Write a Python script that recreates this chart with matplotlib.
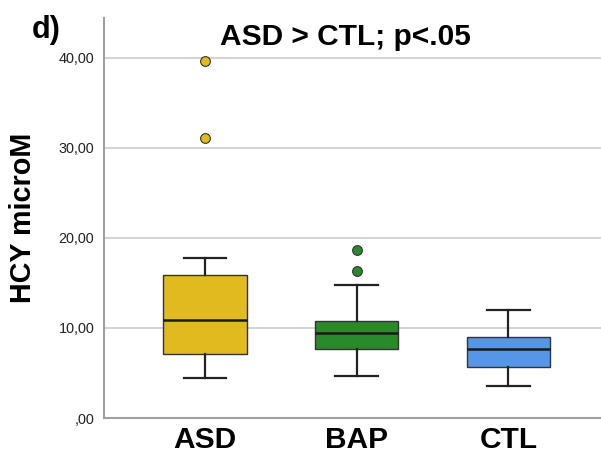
import matplotlib
matplotlib.use("Agg")
import matplotlib.pyplot as plt
from matplotlib.ticker import FuncFormatter

plt.rcParams["font.family"] = ["Liberation Sans", "DejaVu Sans"]

groups = ["ASD", "BAP", "CTL"]
colors = ["#E0BA1F", "#2A8A2A", "#5596E6"]
# box stats: whisker low, q1, median, q3, whisker high
whislo = [4.4, 4.7, 3.6]
q1 = [7.1, 7.7, 5.7]
med = [10.9, 9.4, 7.7]
q3 = [15.9, 10.8, 9.0]
whishi = [17.8, 14.8, 12.0]
outliers = [[39.6, 31.1], [18.6, 16.3], []]

stats = []
for i, g in enumerate(groups):
    stats.append({
        "label": g, "whislo": whislo[i], "q1": q1[i], "med": med[i],
        "q3": q3[i], "whishi": whishi[i], "fliers": outliers[i],
    })

fig = plt.figure(figsize=(6.01, 4.57), dpi=100)
ax = fig.add_axes([0.173, 0.0853, 0.827, 0.8753])

bp = ax.bxp(stats, positions=range(len(groups)), widths=0.55,
            patch_artist=True, showfliers=True,
            medianprops=dict(color="#1a1a1a", linewidth=1.8),
            whiskerprops=dict(color="#222222", linewidth=1.6),
            capprops=dict(color="#222222", linewidth=1.6),
            boxprops=dict(edgecolor="#333333", linewidth=1.0),
            capwidths=0.28)
for patch, c in zip(bp["boxes"], colors):
    patch.set_facecolor(c)
for fl, c in zip(bp["fliers"], colors):
    fl.set(marker="o", markerfacecolor=c, markeredgecolor="#333333",
           markersize=7, markeredgewidth=0.8)

ax.set_xlim(-0.665, 2.61)
ax.set_ylim(0, 44.4)
ax.set_yticks([0, 10, 20, 30, 40])
ax.yaxis.set_major_formatter(FuncFormatter(
    lambda v, p: ",00" if v == 0 else f"{v:.2f}".replace(".", ",")))
ax.set_xticks(range(len(groups)))
ax.set_xticklabels(groups, fontsize=21.5, fontweight="bold")
ax.tick_params(axis="y", length=0, labelsize=10.4, pad=7, colors="#222222")
ax.tick_params(axis="x", length=0, pad=6)
for y in [10, 20, 30, 40]:
    ax.axhline(y, color="#d4d4d4", linewidth=1.5, zorder=0)
for s in ["top", "right"]:
    ax.spines[s].set_visible(False)
for s in ["left", "bottom"]:
    ax.spines[s].set_color("#a0a0a0")
    ax.spines[s].set_linewidth(1.5)

ax.set_ylabel("HCY microM", fontsize=20.7, fontweight="bold")
ax.yaxis.set_label_coords(-0.135, 0.50)
fig.text(0.574, 0.918, "ASD > CTL; p<.05", fontsize=21.5, fontweight="bold",
         ha="center", va="center")
fig.text(0.053, 0.935, "d)", fontsize=22, fontweight="bold", ha="left", va="center")

fig.savefig("out.png", dpi=100)
